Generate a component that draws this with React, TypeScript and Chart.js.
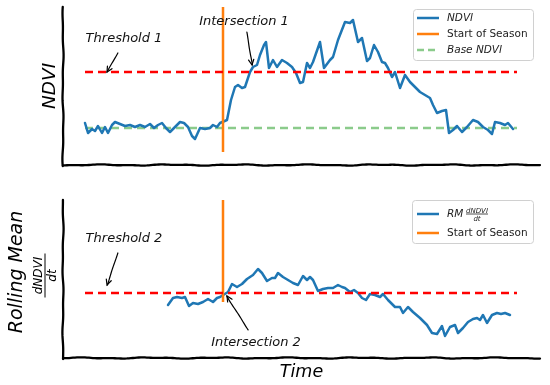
import { useEffect, useRef } from "react";
import { Chart, registerables } from "chart.js";

Chart.register(...registerables);

const FONT = '"DejaVu Sans", sans-serif';

// ---- x range (days) ----
const X_MIN = -22;
const X_MAX = 455;

// ---- top panel: NDVI ----
const ndviDays = [
  0, 3, 7, 10, 13, 17, 20, 23, 27, 30, 35, 40, 45, 50, 55, 60, 65, 69, 73, 77, 81, 85, 90, 95, 99, 103, 107, 110,
  115, 120, 125, 128, 132, 135, 142, 146, 150, 153, 157, 160, 165, 168, 172, 175, 179, 181, 184, 188, 192, 197,
  202, 207, 211, 215, 218, 222, 225, 228, 235, 239, 245, 248, 253, 260, 265, 268, 273, 277, 282, 285, 289, 293,
  297, 300, 303, 307, 310, 315, 320, 325, 330, 335, 340, 345, 348, 352, 357, 361, 364, 368, 372, 377, 382, 388,
  393, 398, 403, 407, 410, 415, 420, 423, 428,
];
const ndviValues = [
  0.31, 0.26, 0.28, 0.27, 0.295, 0.26, 0.29, 0.26, 0.3, 0.315, 0.305, 0.295, 0.3, 0.29, 0.3, 0.29, 0.305, 0.285,
  0.3, 0.31, 0.285, 0.265, 0.29, 0.315, 0.31, 0.29, 0.245, 0.23, 0.285, 0.28, 0.285, 0.3, 0.29, 0.31,
  0.325, 0.425, 0.49, 0.5, 0.485, 0.49, 0.565, 0.59, 0.6, 0.65, 0.7, 0.715, 0.585, 0.625, 0.59, 0.625, 0.61, 0.59,
  0.56, 0.51, 0.515, 0.61, 0.585, 0.615, 0.715, 0.585, 0.625, 0.64, 0.725, 0.815, 0.81, 0.825, 0.715, 0.735, 0.62,
  0.635, 0.7, 0.665, 0.615, 0.61, 0.585, 0.54, 0.565, 0.485, 0.55, 0.515, 0.49, 0.465, 0.45, 0.435, 0.4, 0.36,
  0.37, 0.375, 0.26, 0.275, 0.295, 0.265, 0.29, 0.325, 0.315, 0.29, 0.275, 0.255, 0.315, 0.31, 0.3, 0.31, 0.28,
];
const NDVI_MIN = 0.1;
const NDVI_MAX = 0.89;
const threshold1 = 0.565;
const baseNdvi = 0.285;
const thresholdDays = [0, 432];
const seasonStartDay = 138;
const seasonTopRange = [0.165, 0.89];

// ---- bottom panel: rolling mean of dNDVI/dt ----
const rmDays = [
  83, 88, 92, 97, 100, 104, 108, 113, 118, 123, 128, 132, 135, 143, 147, 152, 157, 162, 168, 173, 177, 182, 187,
  190, 193, 198, 203, 208, 213, 218, 222, 225, 228, 233, 238, 243, 248, 253, 257, 260, 265, 269, 273, 277, 281,
  285, 290, 295, 298, 303, 310, 315, 318, 323, 328, 335, 342, 347, 352, 357, 360, 365, 370, 373, 378, 383, 388,
  392, 395, 398, 402, 407, 412, 416, 420, 425,
];
const rmValues = [
  -0.012, -0.005, -0.004, -0.005, -0.004, -0.013, -0.01, -0.011, -0.009, -0.006, -0.009, -0.005, -0.004, 0.001,
  0.009, 0.006, 0.009, 0.014, 0.018, 0.024, 0.02, 0.012, 0.015, 0.015, 0.02, 0.016, 0.013, 0.01, 0.008, 0.017,
  0.013, 0.016, 0.013, 0.002, 0.004, 0.005, 0.005, 0.008, 0.006, 0.005, 0.001, 0.003, 0.0, -0.005, -0.007,
  -0.001, -0.002, -0.004, -0.001, -0.007, -0.014, -0.014, -0.02, -0.014, -0.019, -0.025, -0.032, -0.04, -0.041,
  -0.033, -0.043, -0.034, -0.032, -0.04, -0.035, -0.029, -0.026, -0.025, -0.027, -0.022, -0.03, -0.022, -0.02,
  -0.021, -0.02, -0.022,
];
const RM_MIN = -0.065;
const RM_MAX = 0.093;
const threshold2 = 0.0;
const seasonBottomRange = [-0.009, 0.093];

// ---- annotations (data coordinates: text centre, arrow start, arrow tip) ----
const topNotes = [
  { text: "Threshold 1", tx: 39, ty: 0.73, fx: 33, fy: 0.66, ax: 22, ay: 0.565 },
  { text: "Intersection 1", tx: 159, ty: 0.815, fx: 162, fy: 0.765, ax: 167, ay: 0.6 },
];
const bottomNotes = [
  { text: "Threshold 2", tx: 39, ty: 0.054, fx: 33, fy: 0.04, ax: 22, ay: 0.008 },
  { text: "Intersection 2", tx: 171, ty: -0.05, fx: 163, fy: -0.037, ax: 142, ay: -0.003 },
];

const BLUE = "#1f77b4";
const ORANGE = "#ff7f0e";
const RED = "#ff0000";
const GREEN = "rgba(44,160,44,0.55)";

const zip = (xs: number[], ys: number[]) => xs.map((x, i) => ({ x, y: ys[i] }));

function wobbly(ctx: CanvasRenderingContext2D, x1: number, y1: number, x2: number, y2: number, amp: number, seed: number) {
  const len = Math.hypot(x2 - x1, y2 - y1);
  const n = Math.max(2, Math.round(len / 2));
  const nx = -(y2 - y1) / len;
  const ny = (x2 - x1) / len;
  ctx.beginPath();
  for (let i = 0; i <= n; i++) {
    const t = i / n;
    const s = t * len;
    const off = amp * (0.6 * Math.sin(s / 11 + seed) + 0.4 * Math.sin(s / 4.7 + seed * 2.3));
    const x = x1 + (x2 - x1) * t + nx * off;
    const y = y1 + (y2 - y1) * t + ny * off;
    if (i === 0) ctx.moveTo(x, y);
    else ctx.lineTo(x, y);
  }
  ctx.stroke();
}

function drawAxes(chart: any, seed: number) {
  const { ctx, chartArea: ca } = chart;
  ctx.save();
  ctx.strokeStyle = "#000";
  ctx.lineWidth = 2.3;
  ctx.lineCap = "round";
  wobbly(ctx, ca.left, ca.top, ca.left, ca.bottom + 1, 0.6, seed);
  wobbly(ctx, ca.left, ca.bottom, ca.right, ca.bottom, 0.7, seed + 1);
  ctx.restore();
}

function drawNotes(chart: any, notes: typeof topNotes) {
  const { ctx } = chart;
  const sx = chart.scales.x;
  const sy = chart.scales.y;
  ctx.save();
  ctx.fillStyle = "#111";
  ctx.font = `italic 13px ${FONT}`;
  ctx.textAlign = "center";
  ctx.textBaseline = "middle";
  for (const n of notes) {
    ctx.fillText(n.text, sx.getPixelForValue(n.tx), sy.getPixelForValue(n.ty));
    const x1 = sx.getPixelForValue(n.fx);
    const y1 = sy.getPixelForValue(n.fy);
    const x2 = sx.getPixelForValue(n.ax);
    const y2 = sy.getPixelForValue(n.ay);
    ctx.strokeStyle = "#000";
    ctx.lineWidth = 1.2;
    ctx.lineCap = "round";
    wobbly(ctx, x1, y1, x2, y2, 0.4, 1.7);
    const ang = Math.atan2(y2 - y1, x2 - x1);
    const hl = 6;
    ctx.beginPath();
    ctx.moveTo(x2 - hl * Math.cos(ang - 0.45), y2 - hl * Math.sin(ang - 0.45));
    ctx.lineTo(x2, y2);
    ctx.lineTo(x2 - hl * Math.cos(ang + 0.45), y2 - hl * Math.sin(ang + 0.45));
    ctx.stroke();
  }
  ctx.restore();
}

function legendBox(ctx: CanvasRenderingContext2D, l: number, t: number, r: number, b: number) {
  ctx.save();
  ctx.fillStyle = "rgba(255,255,255,0.85)";
  ctx.strokeStyle = "#d0d0d0";
  ctx.lineWidth = 1;
  ctx.beginPath();
  (ctx as any).roundRect(l + 0.5, t + 0.5, r - l, b - t, 3);
  ctx.fill();
  ctx.stroke();
  ctx.restore();
}

function legendLine(ctx: CanvasRenderingContext2D, x: number, y: number, color: string, dash: number[]) {
  ctx.save();
  ctx.strokeStyle = color;
  ctx.lineWidth = 2.5;
  ctx.setLineDash(dash);
  ctx.beginPath();
  ctx.moveTo(x, y);
  ctx.lineTo(x + 22, y);
  ctx.stroke();
  ctx.restore();
}

function drawTopExtras(chart: any) {
  const { ctx, chartArea: ca } = chart;
  drawAxes(chart, 0.3);
  // y label
  ctx.save();
  ctx.fillStyle = "#000";
  ctx.font = `italic 18.5px ${FONT}`;
  ctx.translate(55, (ca.top + ca.bottom) / 2);
  ctx.rotate(-Math.PI / 2);
  ctx.textAlign = "center";
  ctx.textBaseline = "alphabetic";
  ctx.fillText("NDVI", 0, 0);
  ctx.restore();
  drawNotes(chart, topNotes);
  // legend
  const l = ca.right - 127;
  const t = ca.top + 2;
  legendBox(ctx, l, t, ca.right - 7, t + 51);
  const lx = l + 4;
  const tx = l + 34;
  const rows = [
    { y: t + 9, color: BLUE, dash: [] as number[], text: "NDVI", italic: true },
    { y: t + 25, color: ORANGE, dash: [] as number[], text: "Start of Season", italic: false },
    { y: t + 41, color: GREEN, dash: [7, 4], text: "Base NDVI", italic: true },
  ];
  for (const r of rows) {
    legendLine(ctx, lx, r.y, r.color, r.dash);
    ctx.save();
    ctx.fillStyle = "#222";
    ctx.font = `${r.italic ? "italic " : ""}10.5px ${FONT}`;
    ctx.textBaseline = "middle";
    ctx.fillText(r.text, tx, r.y + 0.5);
    ctx.restore();
  }
}

function drawBottomExtras(chart: any) {
  const { ctx, chartArea: ca } = chart;
  drawAxes(chart, 2.1);
  const cy = (ca.top + ca.bottom) / 2;
  // y label: Rolling Mean + fraction
  ctx.save();
  ctx.fillStyle = "#000";
  ctx.font = `italic 19px ${FONT}`;
  ctx.translate(22, cy - 7);
  ctx.rotate(-Math.PI / 2);
  ctx.textAlign = "center";
  ctx.textBaseline = "alphabetic";
  ctx.fillText("Rolling Mean", 0, 0);
  ctx.restore();

  ctx.save();
  ctx.fillStyle = "#000";
  ctx.strokeStyle = "#000";
  ctx.translate(45, cy - 3.5);
  ctx.rotate(-Math.PI / 2);
  ctx.textAlign = "center";
  ctx.font = `italic 12px ${FONT}`;
  ctx.textBaseline = "alphabetic";
  ctx.fillText("dNDVI", 0, -3);
  ctx.textBaseline = "top";
  ctx.fillText("dt", 0, 2);
  ctx.lineWidth = 1;
  ctx.beginPath();
  ctx.moveTo(-22, 0);
  ctx.lineTo(22, 0);
  ctx.stroke();
  ctx.restore();

  // x label
  ctx.save();
  ctx.fillStyle = "#000";
  ctx.font = `italic 17.5px ${FONT}`;
  ctx.textAlign = "center";
  ctx.textBaseline = "alphabetic";
  ctx.fillText("Time", (ca.left + ca.right) / 2, ca.bottom + 19);
  ctx.restore();

  drawNotes(chart, bottomNotes);

  // legend
  const l = ca.right - 128;
  const t = ca.top;
  legendBox(ctx, l, t, ca.right - 7, t + 43);
  const lx = l + 5;
  const tx = l + 35;
  const y1 = t + 14;
  const y2 = t + 33;
  legendLine(ctx, lx, y1, BLUE, []);
  legendLine(ctx, lx, y2, ORANGE, []);
  ctx.save();
  ctx.fillStyle = "#222";
  ctx.textBaseline = "middle";
  ctx.font = `italic 10.5px ${FONT}`;
  ctx.fillText("RM", tx, y1 + 0.5);
  const fx = tx + 30;
  ctx.textAlign = "center";
  ctx.font = `italic 7px ${FONT}`;
  ctx.textBaseline = "alphabetic";
  ctx.fillText("dNDVI", fx, y1 - 1.5);
  ctx.textBaseline = "top";
  ctx.fillText("dt", fx, y1 + 1.5);
  ctx.strokeStyle = "#222";
  ctx.lineWidth = 0.8;
  ctx.beginPath();
  ctx.moveTo(fx - 11, y1);
  ctx.lineTo(fx + 11, y1);
  ctx.stroke();
  ctx.textAlign = "left";
  ctx.textBaseline = "middle";
  ctx.font = `10.5px ${FONT}`;
  ctx.fillText("Start of Season", tx, y2 + 0.5);
  ctx.restore();
}

function baseOptions(yMin: number, yMax: number, padding: any) {
  return {
    responsive: false,
    maintainAspectRatio: false,
    animation: false as const,
    devicePixelRatio: 1,
    layout: { padding },
    scales: {
      x: { type: "linear" as const, min: X_MIN, max: X_MAX, display: false },
      y: { type: "linear" as const, min: yMin, max: yMax, display: false },
    },
    plugins: { legend: { display: false }, tooltip: { enabled: false } },
    elements: { point: { radius: 0 }, line: { tension: 0 } },
  };
}

export default function App() {
  const topRef = useRef<HTMLCanvasElement>(null);
  const botRef = useRef<HTMLCanvasElement>(null);

  useEffect(() => {
    document.body.style.margin = "0";
    const top = new Chart(topRef.current!, {
      type: "line",
      data: {
        datasets: [
          {
            label: "Threshold 1",
            data: thresholdDays.map((d) => ({ x: d, y: threshold1 })),
            borderColor: RED,
            borderWidth: 2.5,
            borderDash: [8, 5],
            order: 1,
          },
          {
            label: "Start of Season",
            data: seasonTopRange.map((v) => ({ x: seasonStartDay, y: v })),
            borderColor: ORANGE,
            borderWidth: 2.5,
            order: 2,
          },
          {
            label: "NDVI",
            data: zip(ndviDays, ndviValues),
            borderColor: BLUE,
            borderWidth: 2.5,
            borderJoinStyle: "round",
            borderCapStyle: "round",
            order: 3,
          },
          {
            label: "Base NDVI",
            data: thresholdDays.map((d) => ({ x: d, y: baseNdvi })),
            borderColor: GREEN,
            borderWidth: 2.5,
            borderDash: [8, 5],
            order: 4,
          },
        ],
      },
      options: baseOptions(NDVI_MIN, NDVI_MAX, { left: 63, right: 10, top: 7, bottom: 25 }) as any,
      plugins: [{ id: "topExtras", afterDraw: (c: any) => drawTopExtras(c) }],
    });

    const bottom = new Chart(botRef.current!, {
      type: "line",
      data: {
        datasets: [
          {
            label: "Threshold 2",
            data: thresholdDays.map((d) => ({ x: d, y: threshold2 })),
            borderColor: RED,
            borderWidth: 2.5,
            borderDash: [8, 5],
            order: 1,
          },
          {
            label: "Start of Season",
            data: seasonBottomRange.map((v) => ({ x: seasonStartDay, y: v })),
            borderColor: ORANGE,
            borderWidth: 2.5,
            order: 2,
          },
          {
            label: "RM dNDVI/dt",
            data: zip(rmDays, rmValues),
            borderColor: BLUE,
            borderWidth: 2.5,
            borderJoinStyle: "round",
            borderCapStyle: "round",
            order: 3,
          },
        ],
      },
      options: baseOptions(RM_MIN, RM_MAX, { left: 63, right: 10, top: 10, bottom: 27 }) as any,
      plugins: [{ id: "bottomExtras", afterDraw: (c: any) => drawBottomExtras(c) }],
    });

    return () => {
      top.destroy();
      bottom.destroy();
    };
  }, []);

  return (
    <div style={{ position: "fixed", left: 0, top: 0, width: 550, height: 385, background: "#fff" }}>
      <canvas
        ref={topRef}
        width={550}
        height={190}
        style={{ position: "absolute", left: 0, top: 0, width: 550, height: 190 }}
      />
      <canvas
        ref={botRef}
        width={550}
        height={195}
        style={{ position: "absolute", left: 0, top: 190, width: 550, height: 195 }}
      />
    </div>
  );
}
